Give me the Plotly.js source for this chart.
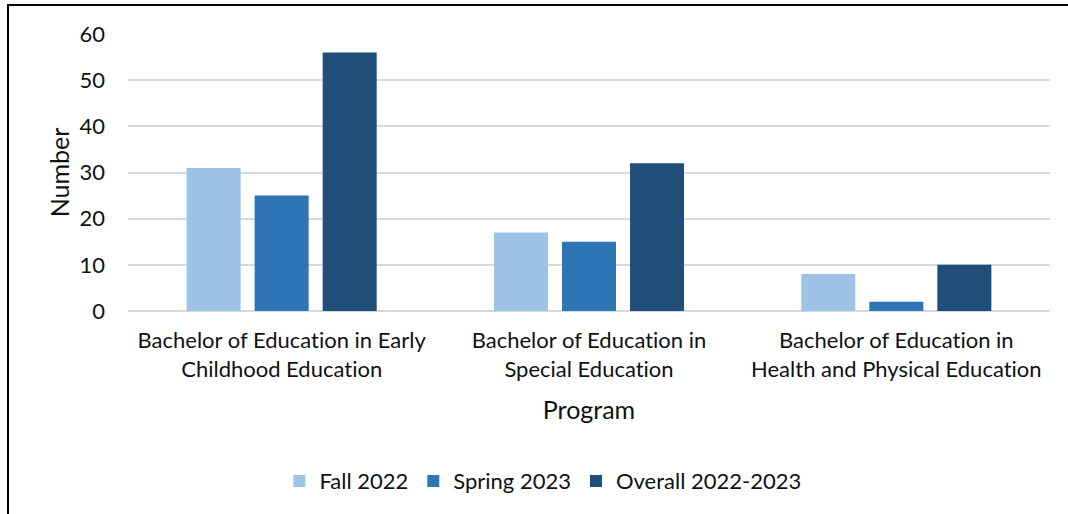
<!DOCTYPE html>
<html>
<head>
<meta charset="utf-8">
<script src="https://cdn.plot.ly/plotly-3.0.1.min.js"></script>
<style>
html,body{margin:0;padding:0;background:#fff;overflow:hidden;}
#frame{position:absolute;left:7px;top:4px;width:1200px;height:600px;border-left:2px solid #000;border-top:2px solid #000;}
#chart{position:absolute;left:0;top:0;width:1068px;height:514px;}
#chart text{font-variant-ligatures:none;font-feature-settings:"liga" 0;}
</style>
</head>
<body>
<div id="frame"></div>
<div id="chart"></div>
<script>
const categories = [
  "Bachelor of Education in Early<br>Childhood Education",
  "Bachelor of Education in<br>Special Education",
  "Bachelor of Education in<br>Health and Physical Education"
];
const seriesNames = ["Fall 2022", "Spring 2023", "Overall 2022-2023"];
const fall2022 = [31, 17, 8];
const spring2023 = [25, 15, 2];
const overall = [56, 32, 10];
const colors = ["#9DC3E6", "#2E75B6", "#1F4E79"];

const values = [fall2022, spring2023, overall];
const traces = values.map((v, i) => ({
  type: "bar",
  x: categories,
  y: v,
  name: seriesNames[i],
  marker: {color: colors[i]},
  hoverinfo: "x+y+name"
}));

const font = "Lato, 'Open Sans', sans-serif";
const layout = {
  width: 1068, height: 514,
  margin: {l: 128, r: 18, t: 34, b: 203},
  paper_bgcolor: "rgba(0,0,0,0)",
  plot_bgcolor: "rgba(0,0,0,0)",
  barmode: "group",
  bargap: 0.336,
  bargroupgap: 0.206,
  font: {family: font, size: 22, color: "#000"},
  xaxis: {
    type: "category",
    showgrid: false,
    showline: false,
    ticks: "",
    ticklabelstandoff: 14,
    tickfont: {family: font, size: 22, color: "#111"},
    title: {text: "Program", font: {family: font, size: 25, color: "#111"}, standoff: 20},
    automargin: false
  },
  yaxis: {
    range: [0, 60],
    dtick: 10,
    showgrid: true,
    gridcolor: "#d9d9d9",
    gridwidth: 1.5,
    zeroline: true,
    zerolinecolor: "#d9d9d9",
    zerolinewidth: 1.5,
    showline: false,
    ticks: "",
    ticklabelstandoff: 22,
    tickfont: {family: font, size: 22, color: "#111"},
    title: {text: "Number", font: {family: font, size: 25, color: "#111"}, standoff: 2},
    automargin: false
  },
  showlegend: true,
  legend: {
    orientation: "h",
    x: 0.45, xanchor: "center",
    y: -0.614, yanchor: "middle",
    font: {family: font, size: 22, color: "#111"},
    itemwidth: 30,
    tracegroupgap: 0
  }
};

Plotly.newPlot("chart", traces, layout, {displayModeBar: false, staticPlot: false});
</script>
</body>
</html>
